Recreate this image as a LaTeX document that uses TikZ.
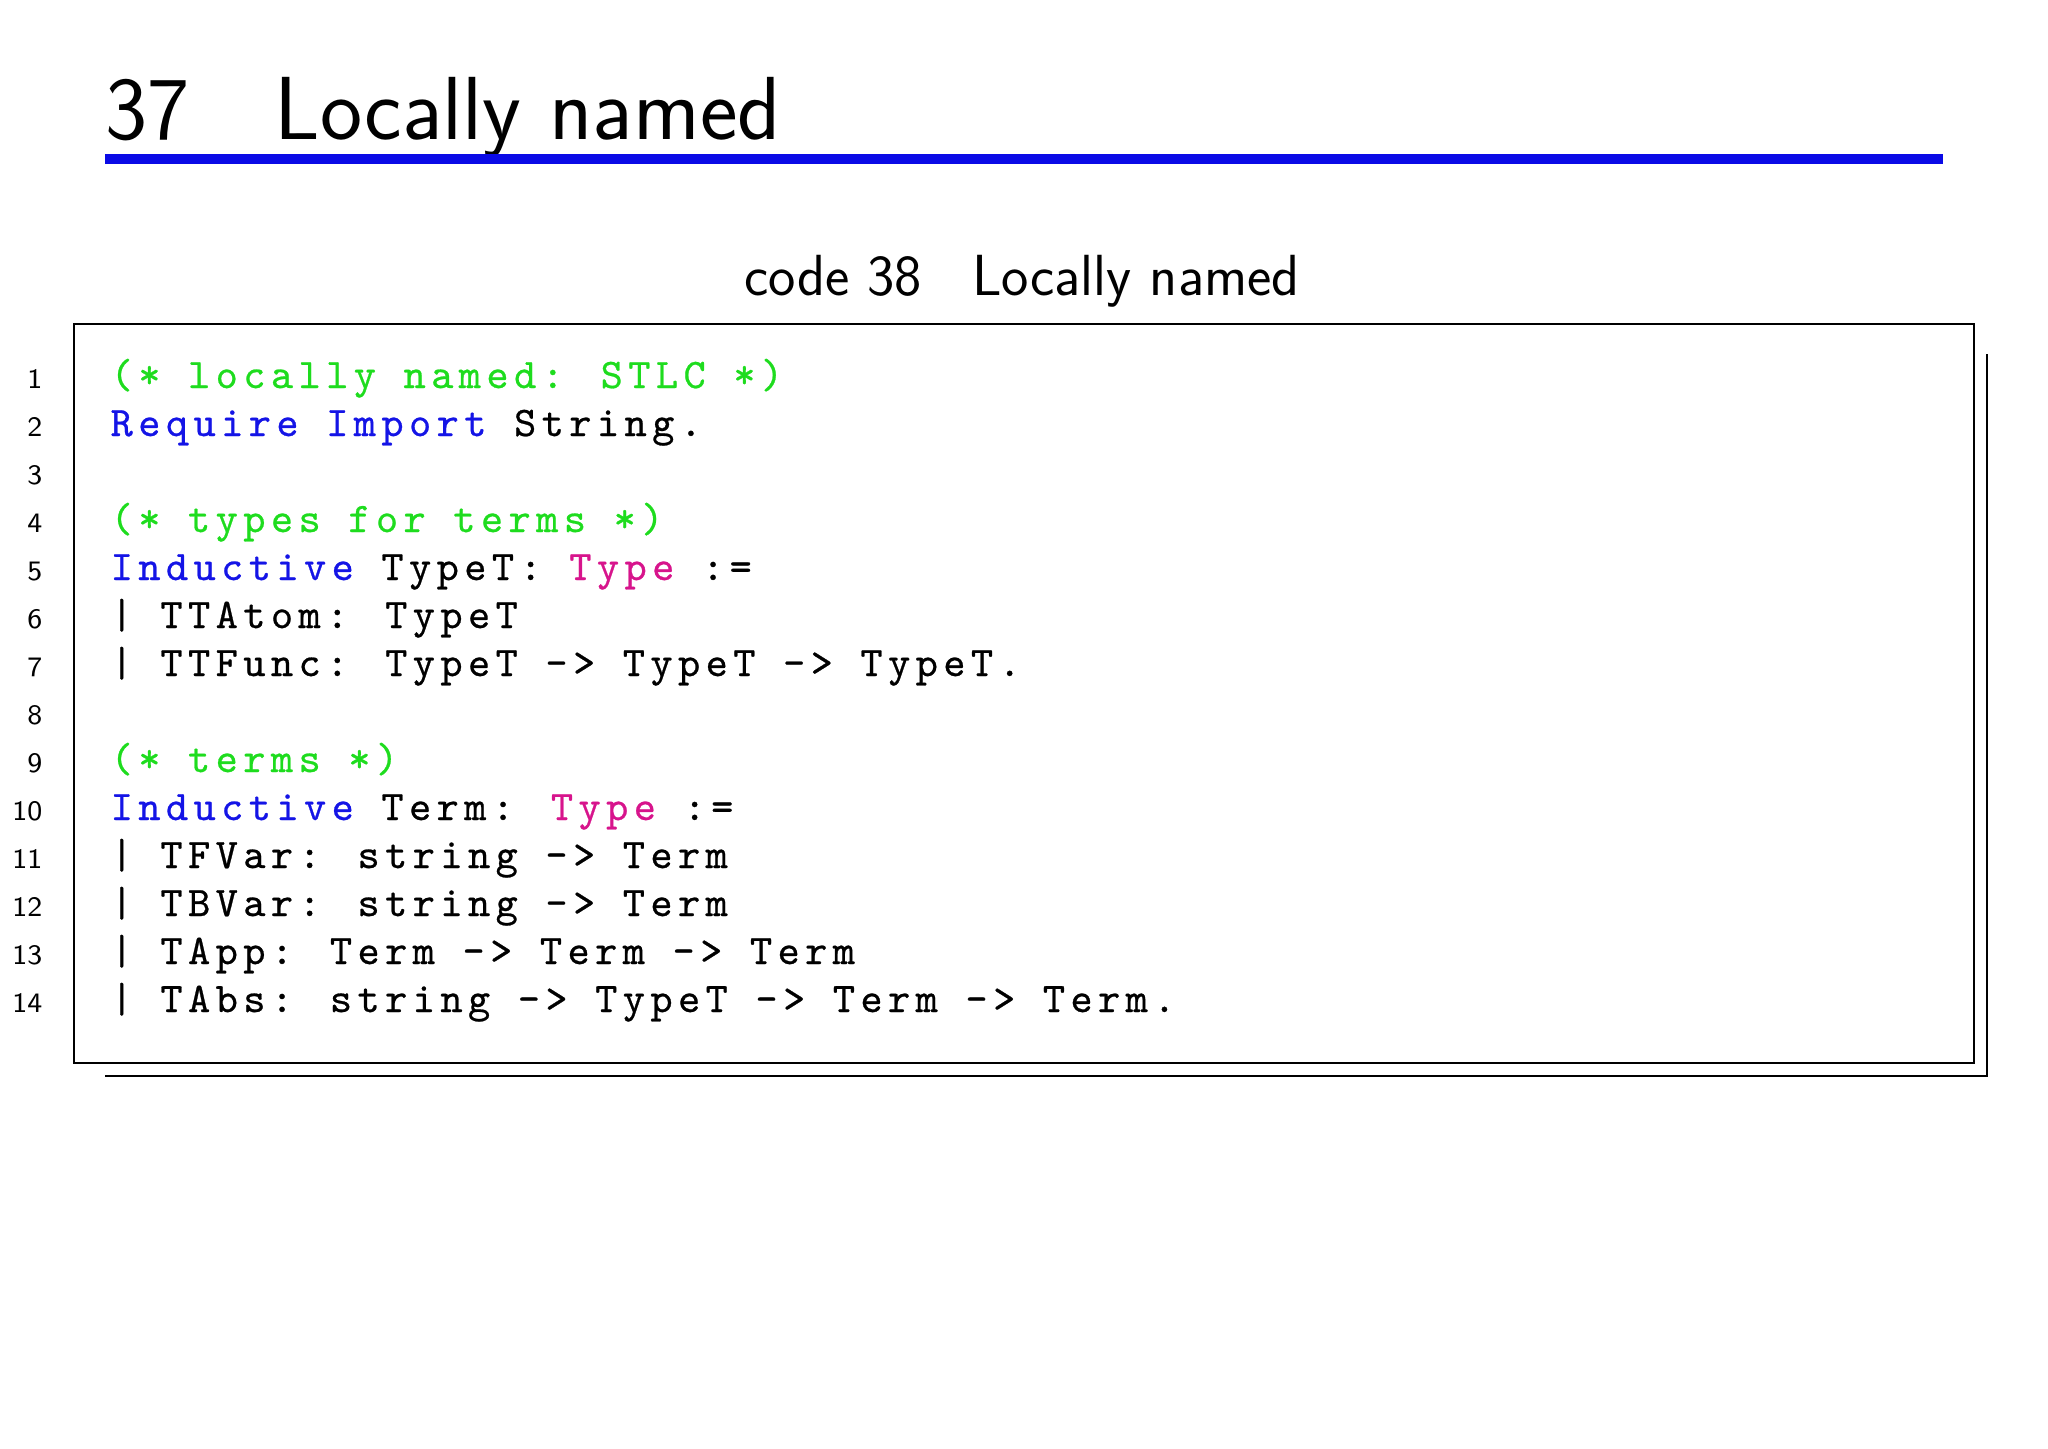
\documentclass[tikz,border=0pt]{standalone}
\usepackage{fontspec}
\newfontfamily\codefont{lmmono10-regular}[Extension=.otf,LetterSpace=13,FakeBold=0.6]
\definecolor{cmt}{RGB}{30,220,30}
\definecolor{kw}{RGB}{20,20,230}
\definecolor{ty}{RGB}{215,20,140}
\definecolor{rule}{RGB}{10,10,230}
\begin{document}
\begin{tikzpicture}[x=1cm,y=1cm,
  code/.style={anchor=base west,inner sep=0,font=\codefont\fontsize{12}{14}\selectfont},
  num/.style={anchor=base east,inner sep=0,font=\sffamily\fontsize{8}{10}\selectfont}]
\useasboundingbox (0,0) rectangle (20.48,-14.48);
\node[anchor=base west,inner sep=0,font=\sffamily\fontsize{25.5}{30}\selectfont] (title) at (1.05,-1.39) {37\hspace{0.85cm}Locally named};
\draw[rule,line width=1.0mm] (1.05,-1.59) coordinate (r1) -- (19.43,-1.59) coordinate (r2);
\node[anchor=base,inner sep=0,font=\sffamily\fontsize{16.5}{19}\selectfont] (cap) at (10.22,-2.95) {code 38\hspace{0.5cm}Locally named};
\draw[line width=0.25mm] (0.74,-3.24) rectangle (19.74,-10.63);
\draw[line width=0.25mm] (19.87,-3.54) -- (19.87,-10.76) -- (1.05,-10.76);
\foreach \i in {1,...,14}{\node[num] (n\i) at (0.43,{-3.88-0.48*(\i-1)}) {\i};}
\def\L#1#2{\node[code] (c#1) at (1.10,{-3.88-0.48*(#1-1)}) {#2};}
\L{1}{\textcolor{cmt}{(* locally named: STLC *)}}
\L{2}{\textcolor{kw}{Require Import} String.}
\L{4}{\textcolor{cmt}{(* types for terms *)}}
\L{5}{\textcolor{kw}{Inductive} TypeT: \textcolor{ty}{Type} :=}
\L{6}{| TTAtom: TypeT}
\L{7}{| TTFunc: TypeT -> TypeT -> TypeT.}
\L{9}{\textcolor{cmt}{(* terms *)}}
\L{10}{\textcolor{kw}{Inductive} Term: \textcolor{ty}{Type} :=}
\L{11}{| TFVar: string -> Term}
\L{12}{| TBVar: string -> Term}
\L{13}{| TApp: Term -> Term -> Term}
\L{14}{| TAbs: string -> TypeT -> Term -> Term.}
\end{tikzpicture}
\end{document}
